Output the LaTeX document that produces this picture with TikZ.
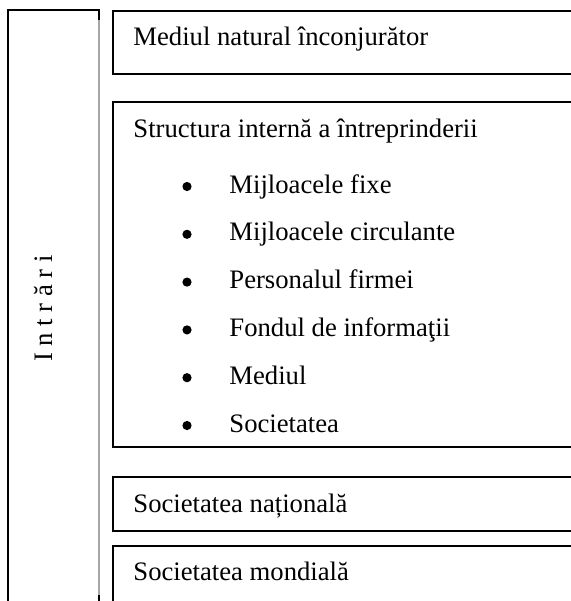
\documentclass[tikz,border=0pt]{standalone}
\usepackage{fontspec}
\setmainfont{Liberation Serif}
\begin{document}
\begin{tikzpicture}[x=0.45pt,y=-0.45pt]
    \tikzset{frame line/.style={draw=black, line width=0.9pt},
             thin edge/.style={draw=black!35, line width=0.5pt},
             box text/.style={anchor=base west, inner sep=0pt, font=\fontsize{12}{14}\selectfont}}
    \useasboundingbox (0,0) rectangle (571,601);

    % left column
    \draw[frame line] (7.5,606) -- (7.5,10) -- (99,10) -- (99,20);
    \draw[thin edge] (99,20) -- (99,595);
    \draw[frame line] (99,595) -- (99,606);
    \node[box text, anchor=base, rotate=90] (intrari) at (52,308.5) {I n t r ă r i};

    % boxes on the right
    \draw[frame line] (580,10.5) -- (113,10.5) -- (113,73.5) -- (580,73.5);
    \draw[frame line] (580,102) -- (113,102) -- (113,447) -- (580,447);
    \draw[frame line] (580,477) -- (113,477) -- (113,531) -- (580,531);
    \draw[frame line] (580,546) -- (113,546) -- (113,606);

    \node[box text] (natural) at (133,45) {Mediul natural înconjurător};
    \node[box text] (structura) at (133,137) {Structura internă a întreprinderii};
    \foreach \txt [count=\i] in {Mijloacele fixe, Mijloacele circulante, Personalul firmei,
                                 Fondul de informaţii, Mediul, Societatea} {
        \fill (187,193+47.8*\i-47.8-6.5) circle[radius=4.6];
        \node[box text] (item\i) at (229,193+47.8*\i-47.8) {\txt};
    }
    \node[box text] (nationala) at (133,512) {Societatea națională};
    \node[box text] (mondiala) at (133,580) {Societatea mondială};
\end{tikzpicture}
\end{document}
